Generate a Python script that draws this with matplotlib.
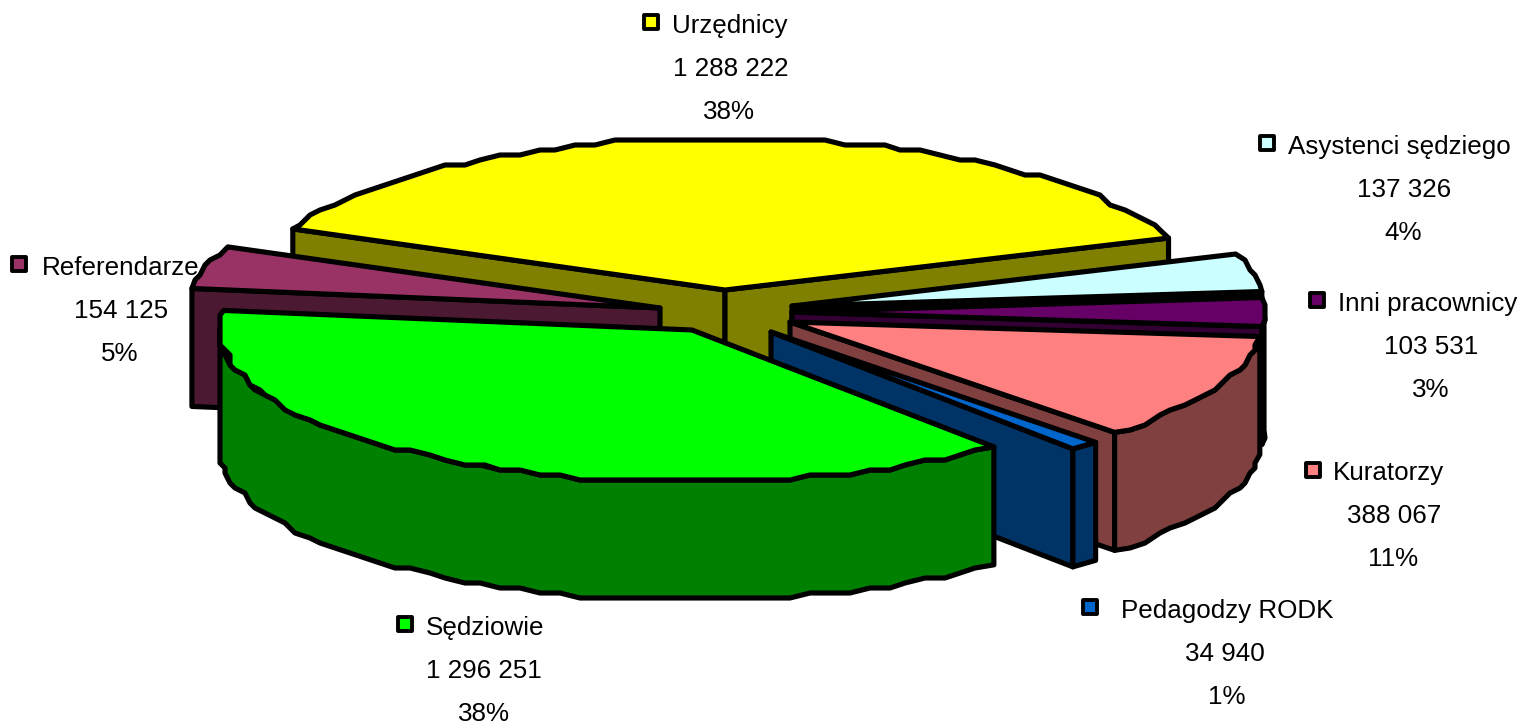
import numpy as np
import matplotlib.pyplot as plt
from matplotlib.markers import MarkerStyle
from matplotlib.patches import Polygon

plt.rcParams['font.family'] = ['Liberation Sans', 'DejaVu Sans']

# Data, clockwise from the big yellow slice
names = ["Urzędnicy", "Asystenci sędziego", "Inni pracownicy", "Kuratorzy",
         "Pedagodzy RODK", "Sędziowie", "Referendarze"]
values = [1288222, 137326, 103531, 388067, 34940, 1296251, 154125]

# Colors
top_colors = ["#FFFF00", "#CCFFFF", "#660066", "#FF8080", "#0066CC", "#00FF00", "#993366"]
side_colors = ["#808000", "#000000", "#330033", "#804040", "#003366", "#008000", "#4C1933"]

# Layout of the exploded pie, in pixels
apex_x = [725, 792, 792, 790, 771, 692, 660]
apex_y = [290, 306, 312, 322, 332, 330, 308]
draw_order = [0, 1, 6, 2, 3, 4, 5]
rx, ry, depth = 472, 152, 118
start_angle = 203.7

# Label layout: marker x, marker y, name x, value x, line y positions
marker_x = [651, 1267, 1317, 1313, 1090, 405, 19]
marker_y = [22, 143, 300, 470, 607, 624, 264]
name_x = [672, 1288, 1338, 1333, 1121, 426, 42]
value_x = [731, 1404, 1431, 1394, 1225, 484, 121]
pct_x = [729, 1403, 1431, 1393, 1227, 484, 120]
line_y = [26, 147, 304, 473, 611, 628, 268]
line_gap = 43


def arc_points(cx, cy, t1, t2):
    # coarse, snapped outline gives the stepped edge of the original
    n = max(2, int(abs(t2 - t1) / 2.5) + 1)
    t = np.radians(np.linspace(t1, t2, n))
    x = cx + rx * np.cos(t)
    y = cy + ry * np.sin(t)
    x[1:-1] = np.round(x[1:-1] / 5) * 5
    y[1:-1] = np.round(y[1:-1] / 5) * 5
    return np.column_stack([x, y])


total = sum(values)
sweeps = [v / total * 360 for v in values]
starts = start_angle + np.concatenate([[0], np.cumsum(sweeps)[:-1]])

fig = plt.figure(figsize=(15.22, 7.25), dpi=100)
ax = fig.add_axes([0, 0, 1, 1])
ax.set_xlim(0, 1522)
ax.set_ylim(725, 0)
ax.axis("off")

lw = 3.7
for i in draw_order:
    cx, cy = apex_x[i], apex_y[i]
    t1, t2 = starts[i], starts[i] + sweeps[i]
    style = dict(edgecolor="black", linewidth=lw, joinstyle="round")
    arc = arc_points(cx, cy, t1, t2)

    # radial walls, only those facing the viewer
    if np.cos(np.radians(t1)) < 0:
        p = arc[0]
        wall = [(cx, cy), p, (p[0], p[1] + depth), (cx, cy + depth)]
        ax.add_patch(Polygon(wall, facecolor=side_colors[i], **style))
    if np.cos(np.radians(t2)) > 0:
        p = arc[-1]
        wall = [(cx, cy), p, (p[0], p[1] + depth), (cx, cy + depth)]
        ax.add_patch(Polygon(wall, facecolor=side_colors[i], **style))

    # outer wall, only the part facing the viewer
    for k in (0, 1):
        a = max(t1, 360 * k)
        b = min(t2, 360 * k + 180)
        if b > a:
            edge = arc_points(cx, cy, a, b)
            wall = np.vstack([edge, (edge + [0, depth])[::-1]])
            ax.add_patch(Polygon(wall, facecolor=side_colors[i], **style))

    # top
    ax.add_patch(Polygon(np.vstack([[cx, cy], arc]), facecolor=top_colors[i], **style))

box = MarkerStyle("s", joinstyle="round")
for i in range(len(names)):
    ax.plot(marker_x[i], marker_y[i], marker=box, ms=9.8, mfc=top_colors[i],
            mec="black", mew=2.8, ls="none")
    ax.text(name_x[i], line_y[i], names[i], fontsize=18.7, ha="left", va="center")
    ax.text(value_x[i], line_y[i] + line_gap, f"{values[i]:,}".replace(",", " "),
            fontsize=18.7, ha="center", va="center")
    ax.text(pct_x[i], line_y[i] + 2 * line_gap, f"{round(values[i] / total * 100)}%",
            fontsize=18.7, ha="center", va="center")

fig.savefig("out.png", dpi=100)
